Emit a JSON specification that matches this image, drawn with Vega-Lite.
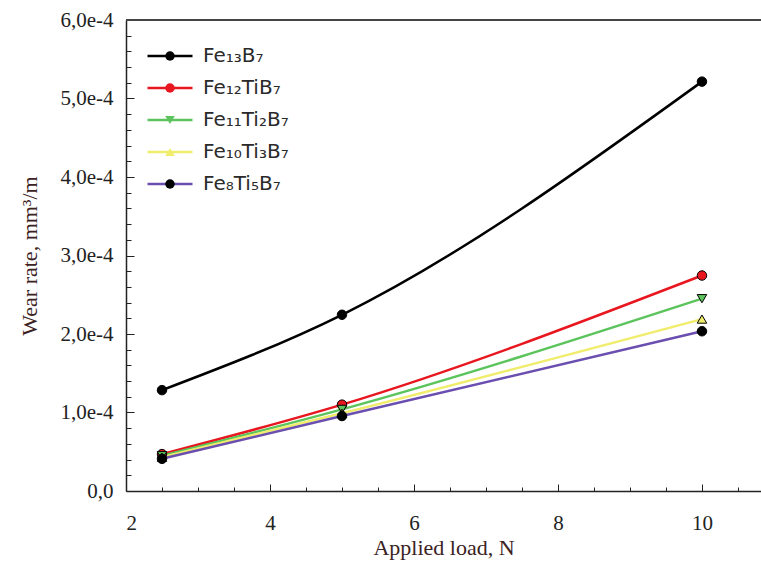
{
  "$schema": "https://vega.github.io/schema/vega-lite/v6.json",
  "width": 635,
  "height": 471,
  "autosize": {"type": "none"},
  "padding": {"left": 126, "top": 20, "right": 0, "bottom": 77},
  "background": "white",
  "config": {
    "view": {"stroke": null},
    "axis": {"labelFont": "Liberation Serif", "labelFontSize": 21, "labelColor": "#222", "titleFont": "Liberation Serif", "titleFontSize": 22, "titleFontWeight": "normal", "titleColor": "#3b2222", "grid": false, "tickColor": "#222", "domainColor": "#222"}
  },
  "data": {
    "values": [
      {"alloy": "Fe₁₃B₇", "load": 2.5, "wear": 0.0001285},
      {"alloy": "Fe₁₃B₇", "load": 5, "wear": 0.0002245},
      {"alloy": "Fe₁₃B₇", "load": 10, "wear": 0.0005215},
      {"alloy": "Fe₁₂TiB₇", "load": 2.5, "wear": 0.000047},
      {"alloy": "Fe₁₂TiB₇", "load": 5, "wear": 0.00011},
      {"alloy": "Fe₁₂TiB₇", "load": 10, "wear": 0.0002745},
      {"alloy": "Fe₁₁Ti₂B₇", "load": 2.5, "wear": 0.000045},
      {"alloy": "Fe₁₁Ti₂B₇", "load": 5, "wear": 0.000104},
      {"alloy": "Fe₁₁Ti₂B₇", "load": 10, "wear": 0.000245},
      {"alloy": "Fe₁₀Ti₃B₇", "load": 2.5, "wear": 0.000043},
      {"alloy": "Fe₁₀Ti₃B₇", "load": 5, "wear": 0.000099},
      {"alloy": "Fe₁₀Ti₃B₇", "load": 10, "wear": 0.000219},
      {"alloy": "Fe₈Ti₅B₇", "load": 2.5, "wear": 0.000041},
      {"alloy": "Fe₈Ti₅B₇", "load": 5, "wear": 0.0000955},
      {"alloy": "Fe₈Ti₅B₇", "load": 10, "wear": 0.0002035}
    ]
  },
  "layer": [
    {
      "mark": {"type": "line", "interpolate": "monotone", "strokeWidth": 2.5},
      "encoding": {
        "x": {
          "field": "load", "type": "quantitative",
          "scale": {"domain": [2, 10.82], "nice": false, "zero": false},
          "axis": {
            "orient": "bottom",
            "values": [2, 4, 6, 8, 10],
            "format": "d",
            "tickSize": -7, "tickWidth": 1,
            "domainWidth": 1.5,
            "labelFont": "Liberation Serif", "labelFontSize": 21, "labelColor": "#222",
            "labelPadding": 28,
            "title": "Applied load, N",
            "titlePadding": 4
          }
        },
        "y": {
          "field": "wear", "type": "quantitative",
          "scale": {"domain": [0, 0.0006], "nice": false, "zero": true},
          "axis": {
            "orient": "left",
            "values": [0, 0.0001, 0.0002, 0.0003, 0.0004, 0.0005, 0.0006],
            "labelExpr": "datum.value === 0 ? '0,0' : replace(format(datum.value, '.1e'), '.', ',')",
            "tickSize": -8, "tickWidth": 1,
            "domainWidth": 1.5,
            "labelFont": "Liberation Serif", "labelFontSize": 21, "labelColor": "#222",
            "labelPadding": 21,
            "title": "Wear rate, mm³/m",
            "titlePadding": 18
          }
        },
        "color": {
          "field": "alloy", "type": "nominal",
          "sort": ["Fe₁₃B₇", "Fe₁₂TiB₇", "Fe₁₁Ti₂B₇", "Fe₁₀Ti₃B₇", "Fe₈Ti₅B₇"],
          "scale": {"range": ["#000000", "#e8171f", "#5cc45c", "#f0ec6c", "#6a4fb0"]},
          "legend": {
            "orient": "none", "legendX": 20, "legendY": 25,
            "title": null, "padding": 0,
            "symbolType": "stroke", "symbolSize": 2025, "symbolStrokeWidth": 2.5,
            "clipHeight": 22, "rowPadding": 10, "labelOffset": 9,
            "labelFont": "DejaVu Sans", "labelFontSize": 20, "labelColor": "#2a2a2a", "labelLimit": 300
          }
        }
      }
    },
    {
      "mark": {"type": "point", "filled": true, "size": 90, "stroke": "black", "strokeWidth": 1, "opacity": 1},
      "encoding": {
        "x": {
          "field": "load", "type": "quantitative",
          "axis": {
            "orient": "bottom",
            "values": [2.5, 3, 3.5, 4.5, 5, 5.5, 6.5, 7, 7.5, 8.5, 9, 9.5, 10.5],
            "tickSize": -4, "tickWidth": 1,
            "labels": false, "domain": false, "title": null
          }
        },
        "y": {
          "field": "wear", "type": "quantitative",
          "axis": {
            "orient": "left",
            "values": [0.00002, 0.00004, 0.00006, 0.00008, 0.00012, 0.00014, 0.00016, 0.00018, 0.00022, 0.00024, 0.00026, 0.00028, 0.00032, 0.00034, 0.00036, 0.00038, 0.00042, 0.00044, 0.00046, 0.00048, 0.00052, 0.00054, 0.00056, 0.00058],
            "tickSize": -5, "tickWidth": 1,
            "labels": false, "domain": false, "title": null
          }
        },
        "fill": {
          "field": "alloy", "type": "nominal",
          "scale": {"domain": ["Fe₁₃B₇", "Fe₁₂TiB₇", "Fe₁₁Ti₂B₇", "Fe₁₀Ti₃B₇", "Fe₈Ti₅B₇"], "range": ["#000000", "#e8171f", "#5cc45c", "#f0ec6c", "#000000"]},
          "legend": {
            "orient": "none", "legendX": 35, "legendY": 25,
            "title": null, "padding": 0,
            "symbolSize": 90, "symbolStrokeWidth": 1, "symbolStrokeColor": "black",
            "clipHeight": 22, "rowPadding": 10, "labelOffset": 9,
            "labelFont": "DejaVu Sans", "labelFontSize": 18, "labelExpr": "''"
          }
        },
        "shape": {
          "field": "alloy", "type": "nominal",
          "scale": {"domain": ["Fe₁₃B₇", "Fe₁₂TiB₇", "Fe₁₁Ti₂B₇", "Fe₁₀Ti₃B₇", "Fe₈Ti₅B₇"], "range": ["circle", "circle", "triangle-down", "triangle-up", "circle"]},
          "legend": {
            "orient": "none", "legendX": 35, "legendY": 25,
            "title": null, "padding": 0,
            "symbolSize": 90, "symbolStrokeWidth": 1, "symbolStrokeColor": "black",
            "clipHeight": 22, "rowPadding": 10, "labelOffset": 9,
            "labelFont": "DejaVu Sans", "labelFontSize": 18, "labelExpr": "''"
          }
        }
      }
    },
    {
      "mark": {"type": "rule", "color": "#444", "strokeWidth": 2},
      "encoding": {
        "y": {"datum": 0.0006, "type": "quantitative", "axis": null}
      }
    }
  ],
  "resolve": {"axis": {"x": "independent", "y": "independent"}}
}
